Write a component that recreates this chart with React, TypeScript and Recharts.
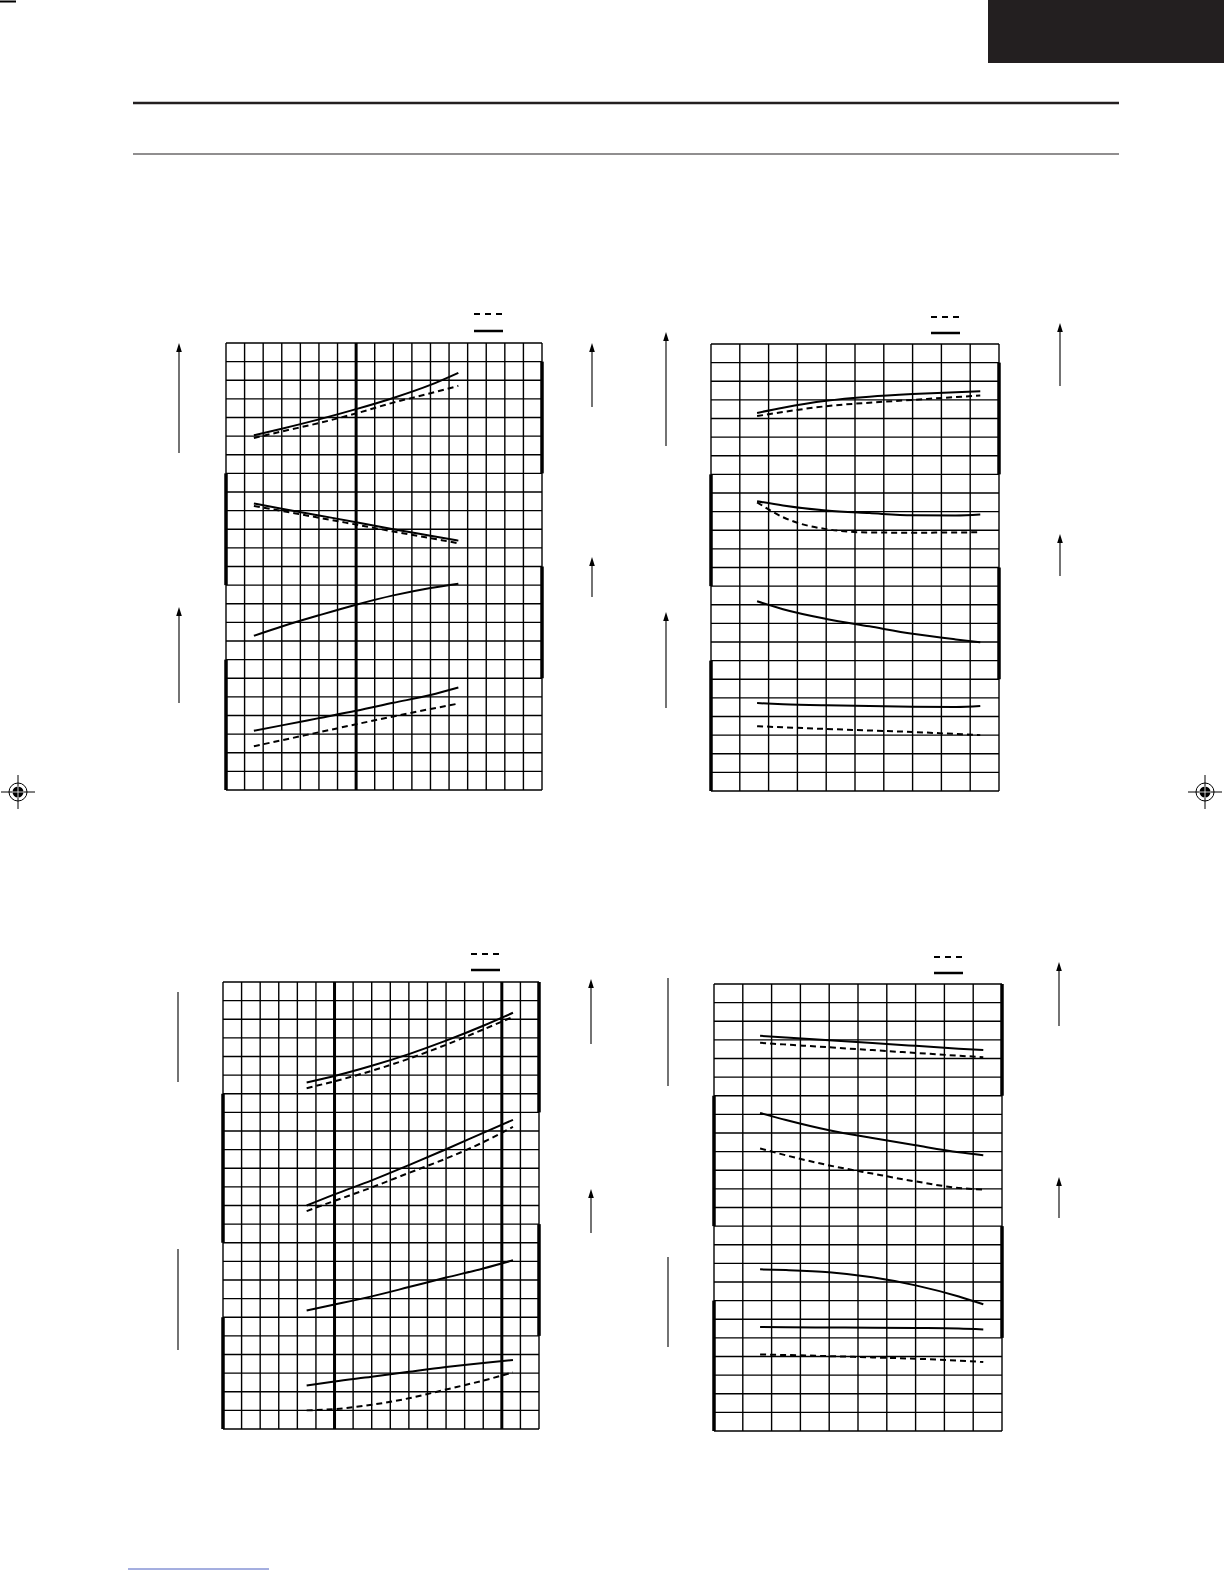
import { LineChart, Line, XAxis, YAxis, CartesianGrid, ReferenceLine } from 'recharts'

// chart 1 (top left)
const c1X = [1.5, 3, 5, 7, 9, 11, 12.5]
const c1TopSolid = [19.05, 19.4, 19.9, 20.45, 21.05, 21.75, 22.4]
const c1TopDash = [18.9, 19.25, 19.7, 20.22, 20.8, 21.3, 21.7]
const c1MidSolid = [15.38, 15.1, 14.74, 14.38, 14.0, 13.65, 13.39]
const c1MidDash = [15.25, 14.98, 14.62, 14.25, 13.88, 13.52, 13.25]
const c1LowSolid = [8.28, 8.78, 9.38, 9.95, 10.45, 10.85, 11.08]
const c1BotSolid = [3.18, 3.47, 3.86, 4.25, 4.68, 5.1, 5.5]
const c1BotDash = [2.35, 2.67, 3.1, 3.53, 3.95, 4.35, 4.64]

// chart 2 (top right)
const c2X = [1.6, 2.5, 4, 5.5, 7, 8.5, 9.35]
const c2TopSolid = [20.3, 20.58, 20.95, 21.17, 21.31, 21.41, 21.46]
const c2TopDash = [20.13, 20.35, 20.66, 20.85, 21.0, 21.15, 21.23]
const c2MidSolid = [15.56, 15.33, 15.06, 14.92, 14.8, 14.79, 14.84]
const c2MidDash = [15.5, 14.7, 14.06, 13.88, 13.87, 13.88, 13.89]
const c2LowSolid = [10.19, 9.76, 9.24, 8.84, 8.44, 8.14, 7.99]
const c2BotSolid = [4.72, 4.66, 4.6, 4.56, 4.52, 4.51, 4.56]
const c2BotDash = [3.48, 3.42, 3.33, 3.25, 3.17, 3.06, 3.0]

// chart 3 (bottom left)
const c3X = [4.5, 6, 8, 10, 12, 14, 15.6]
const c3TopSolid = [18.6, 18.95, 19.5, 20.13, 20.85, 21.65, 22.35]
const c3TopDash = [18.3, 18.67, 19.23, 19.88, 20.63, 21.45, 22.13]
const c3MidSolid = [12.0, 12.6, 13.35, 14.17, 15.02, 15.9, 16.6]
const c3MidDash = [11.7, 12.25, 12.97, 13.75, 14.52, 15.4, 16.22]
const c3LowSolid = [6.36, 6.68, 7.12, 7.62, 8.13, 8.62, 9.06]
const c3BotSolid = [2.33, 2.55, 2.8, 3.07, 3.33, 3.55, 3.7]
const c3BotDash = [1.0, 1.07, 1.3, 1.65, 2.12, 2.6, 3.04]

// chart 4 (bottom right)
const c4X = [1.6, 2.5, 4, 5.5, 7, 8.5, 9.35]
const c4TopSolid = [21.22, 21.13, 20.98, 20.83, 20.68, 20.53, 20.45]
const c4TopDash = [20.84, 20.75, 20.6, 20.45, 20.3, 20.15, 20.07]
const c4MidSolid = [17.08, 16.7, 16.15, 15.73, 15.34, 14.97, 14.81]
const c4MidDash = [15.17, 14.8, 14.26, 13.82, 13.4, 13.05, 12.96]
const c4LowSolid = [8.68, 8.64, 8.52, 8.25, 7.82, 7.22, 6.8]
const c4BotSolid = [5.58, 5.57, 5.56, 5.55, 5.53, 5.5, 5.45]
const c4BotDash = [4.11, 4.08, 4.02, 3.95, 3.88, 3.78, 3.7]

const solidKeys = ['topSolid', 'midSolid', 'lowSolid', 'botSolid']
const dashKeys = ['topDash', 'midDash', 'botDash']

function buildRows(xs: number[], s: number[][]) {
  return xs.map((x, i) => ({
    x,
    topSolid: s[0][i],
    topDash: s[1][i],
    midSolid: s[2][i],
    midDash: s[3][i],
    lowSolid: s[4][i],
    botSolid: s[5][i],
    botDash: s[6][i],
  }))
}

const upto = (n: number) => Array.from({ length: n + 1 }, (_, i) => i)

type Seg = [number, number, number] // x, y1, y2

interface GridChartProps {
  left: number
  top: number
  width: number
  height: number
  cols: number
  data: any[]
  heavyX: number[]
  heavySegs: Seg[]
}

function GridChart({ left, top, width, height, cols, data, heavyX, heavySegs }: GridChartProps) {
  const pad = 5
  // one grid line per unit, both directions
  const hGen = ({ offset }: any) => upto(24).map((i) => offset.top + (i * offset.height) / 24)
  const vGen = ({ offset }: any) => upto(cols).map((i) => offset.left + (i * offset.width) / cols)
  return (
    <div style={{ position: 'absolute', left: left - pad, top: top - pad }}>
      <LineChart
        width={width + pad * 2}
        height={height + pad * 2}
        data={data}
        margin={{ top: pad, right: pad, bottom: pad, left: pad }}
      >
        <XAxis dataKey="x" type="number" domain={[0, cols]} ticks={upto(cols)} interval={0} hide />
        <YAxis type="number" domain={[0, 24]} ticks={upto(24)} interval={0} hide />
        <CartesianGrid
          stroke="#000"
          strokeWidth={1.4}
          strokeOpacity={1}
          horizontalCoordinatesGenerator={hGen}
          verticalCoordinatesGenerator={vGen}
        />
        {heavyX.map((x) => (
          <ReferenceLine key={'v' + x} x={x} stroke="#000" strokeWidth={3} />
        ))}
        {heavySegs.map(([x, y1, y2], i) => (
          <ReferenceLine
            key={'s' + i}
            segment={[{ x, y: y1 }, { x, y: y2 }]}
            stroke="#000"
            strokeWidth={3.5}
          />
        ))}
        {solidKeys.map((k) => (
          <Line
            key={k}
            dataKey={k}
            type="monotone"
            stroke="#000"
            strokeWidth={2}
            dot={false}
            isAnimationActive={false}
          />
        ))}
        {dashKeys.map((k) => (
          <Line
            key={k}
            dataKey={k}
            type="monotone"
            stroke="#000"
            strokeWidth={2}
            strokeDasharray="6 4"
            dot={false}
            isAnimationActive={false}
          />
        ))}
      </LineChart>
    </div>
  )
}

// page furniture: axis arrows, legend keys, registration marks
const arrows: [number, number, number, boolean][] = [
  [179, 343, 453, true], [179, 607, 703, true], [592, 343, 407, true], [592, 557, 597, true],
  [666, 332, 446, true], [666, 612, 708, true], [1060, 323, 386, true], [1060, 534, 576, true],
  [178, 992, 1082, false], [178, 1249, 1350, false], [591, 979, 1044, true], [591, 1189, 1233, true],
  [668, 978, 1086, false], [668, 1257, 1347, false], [1059, 962, 1026, true], [1059, 1177, 1218, true],
]
const legendKeys: [number, number, number][] = [
  [474, 314, 331], [931, 317, 333], [471, 954, 970], [934, 957, 973],
]

function RegMark({ cx, cy }: { cx: number; cy: number }) {
  return (
    <g>
      <line x1={cx - 17} y1={cy} x2={cx + 17} y2={cy} stroke="#000" strokeWidth={1} />
      <line x1={cx} y1={cy - 17} x2={cx} y2={cy + 17} stroke="#000" strokeWidth={1} />
      <circle cx={cx} cy={cy} r={9} fill="none" stroke="#000" strokeWidth={1} />
      <circle cx={cx} cy={cy} r={5.5} fill="#000" />
      <line x1={cx - 6} y1={cy} x2={cx + 6} y2={cy} stroke="#fff" strokeWidth={0.8} />
      <line x1={cx} y1={cy - 6} x2={cx} y2={cy + 6} stroke="#fff" strokeWidth={0.8} />
    </g>
  )
}

function Furniture() {
  return (
    <svg width={1224} height={1584} style={{ position: 'absolute', left: 0, top: 0, pointerEvents: 'none' }}>
      <line x1={0} y1={1.5} x2={16} y2={1.5} stroke="#000" strokeWidth={2} />
      <rect x={988} y={0} width={236} height={63} fill="#231f20" />
      <line x1={133} y1={103} x2={1119} y2={103} stroke="#231f20" strokeWidth={2.5} />
      <line x1={133} y1={154} x2={1119} y2={154} stroke="#231f20" strokeWidth={1.2} />
      {arrows.map(([x, y1, y2, head], i) => (
        <g key={i}>
          <line x1={x} y1={head ? y1 + 6 : y1} x2={x} y2={y2} stroke="#000" strokeWidth={1.1} />
          {head && <polygon points={`${x},${y1} ${x - 2.8},${y1 + 9} ${x + 2.8},${y1 + 9}`} fill="#000" />}
        </g>
      ))}
      {legendKeys.map(([x, yd, ys], i) => (
        <g key={i}>
          <line x1={x} y1={yd} x2={x + 29} y2={yd} stroke="#000" strokeWidth={2} strokeDasharray="6 5" />
          <line x1={x} y1={ys} x2={x + 29} y2={ys} stroke="#000" strokeWidth={2.5} />
        </g>
      ))}
      <RegMark cx={18} cy={792} />
      <RegMark cx={1205} cy={792} />
      <line x1={128} y1={1569} x2={269} y2={1569} stroke="#4a5fc1" strokeWidth={1} />
    </svg>
  )
}

export default function App() {
  return (
    <div style={{ position: 'absolute', left: 0, top: 0, width: 1224, height: 1584, background: '#fff', overflow: 'hidden' }}>
      <GridChart
        left={226} top={343} width={316} height={447} cols={17}
        data={buildRows(c1X, [c1TopSolid, c1TopDash, c1MidSolid, c1MidDash, c1LowSolid, c1BotSolid, c1BotDash])}
        heavyX={[7]}
        heavySegs={[[0, 11, 17], [0, 0, 7], [17, 17, 23], [17, 6, 12]]}
      />
      <GridChart
        left={711} top={344} width={288} height={447} cols={10}
        data={buildRows(c2X, [c2TopSolid, c2TopDash, c2MidSolid, c2MidDash, c2LowSolid, c2BotSolid, c2BotDash])}
        heavyX={[]}
        heavySegs={[[0, 11, 17], [0, 0, 7], [10, 17, 23], [10, 6, 12]]}
      />
      <GridChart
        left={223} top={982} width={316} height={447} cols={17}
        data={buildRows(c3X, [c3TopSolid, c3TopDash, c3MidSolid, c3MidDash, c3LowSolid, c3BotSolid, c3BotDash])}
        heavyX={[6, 15]}
        heavySegs={[[0, 10, 18], [0, 0, 6], [17, 17, 24], [17, 5, 11]]}
      />
      <GridChart
        left={714} top={984} width={288} height={447} cols={10}
        data={buildRows(c4X, [c4TopSolid, c4TopDash, c4MidSolid, c4MidDash, c4LowSolid, c4BotSolid, c4BotDash])}
        heavyX={[]}
        heavySegs={[[0, 11, 18], [0, 0, 7], [10, 18, 24], [10, 5, 11]]}
      />
      <Furniture />
    </div>
  )
}
